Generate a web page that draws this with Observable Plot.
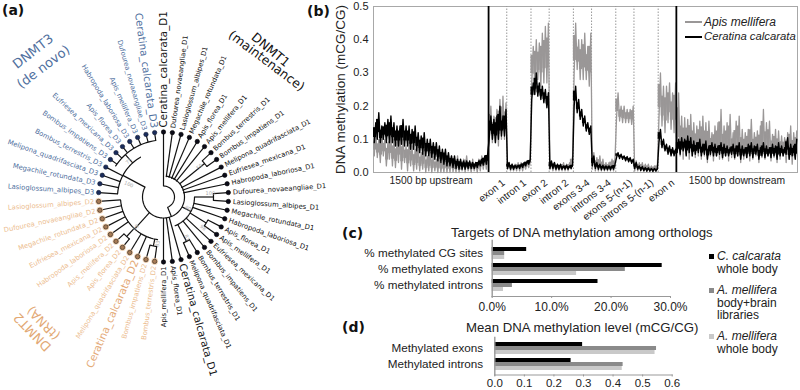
<!DOCTYPE html>
<html><head><meta charset="utf-8">
<script src="https://cdn.jsdelivr.net/npm/d3@7"></script>
<script src="https://cdn.jsdelivr.net/npm/@observablehq/plot@0.6"></script>
<style>
html,body{margin:0;padding:0;background:#fff}
#page{position:relative;width:800px;height:390px;overflow:hidden;font-family:"Liberation Sans",Arial,sans-serif;color:#222}
#page svg{position:absolute;background:transparent;overflow:visible}
.t{position:absolute;white-space:nowrap;line-height:1}
.b{font-weight:bold;font-size:14px;color:#111;font-family:"DejaVu Sans"}
.sw{position:absolute}
</style></head><body><div id="page"></div>
<script>
// ---------- panel (a): leaves clockwise from the top; [name, family, radius of parent node]
const leaves = [
["Ceratina_calcarata_D1","D1",11],["Dufourea_novaeangliae_D1","D1",20],["Lasioglossum_albipes_D1","D1",20],
["Megachile_rotundata_D1","D1",20],["Apis_florea_D1","D1",20],["Apis_mellifera_D1","D1",20],
["Bombus_terrestris_D1","D1",53],["Bombus_impatiens_D1","D1",53],["Melipona_quadrifasciata_D1","D1",20],
["Eufriesea_mexicana_D1","D1",20],["Habropoda_laboriosa_D1","D1",20],["Dufourea_novaeangliae_D1","D1",50],
["Lasioglossum_albipes_D1","D1",50],["Megachile_rotundata_D1","D1",31],["Habropoda_laboriosa_D1","D1",31],
["Apis_florea_D1","D1",50],["Apis_mellifera_D1","D1",50],["Eufriesea_mexicana_D1","D1",31],
["Bombus_impatiens_D1","D1",31],["Bombus_terrestris_D1","D1",50],["Melipona_quadrifasciata_D1","D1",50],
["Ceratina_calcarata_D1","D1",21],["Apis_florea_D1","D1",21],["Apis_mellifera_D1","D1",21],
["Bombus_terrestris_D2","D2",50],["Bombus_impatiens_D2","D2",50],["Ceratina_calcarata_D2","D2",43],
["Melipona_quadrifasciata_D2","D2",43],["Apis_florea_D2","D2",54],["Apis_mellifera_D2","D2",54],
["Habropoda_laboriosa_D2","D2",43],["Eufriesea_mexicana_D2","D2",43],["Megachile_rotundata_D2","D2",43],
["Dufourea_novaeangliae_D2","D2",43],["Lasioglossum_albipes_D2","D2",43],
["Lasioglossum_albipes_D3","D3",46],["Megachile_rotundata_D3","D3",46],["Melipona_quadrifasciata_D3","D3",46],
["Bombus_terrestris_D3","D3",46],["Bombus_impatiens_D3","D3",57],["Eufriesea_mexicana_D3","D3",57],
["Apis_florea_D3","D3",57],["Habropoda_laboriosa_D3","D3",57],["Apis_mellifera_D3","D3",57],
["Dufourea_novaeangliae_D3","D3",57],["Ceratina_calcarata_D3","D3",57]];
// tree arcs: [radius, from angle, to angle]; inner stems: [angle, r0, r1]
const treeArcs = [[11,0,158],[21,8,298],[31,90,158],[50,86.1,93.9],[53,47,54.8],[50,117.4,125.2],
[50,148.7,156.5],[43,188,266],[50,187.8,195.7],[54,219,227],[46,274,330],[57,303,352.2]];
const treeStems = [[158,11,21],[118,21,31],[90,31,50],[121.3,31,50],[152.6,31,50],[50.9,21,53],
[222,21,43],[298,21,46],[191.7,43,50],[223,43,54],[318,46,57]];
const supports = [[290,37,"100",22],[86,47,"100",0],[187,47,"83",-80],[222,41,"99",-50],[115,27,"60",25],
[316,50,"75",-45],[128,50,"98",38],[150,47,"81",65],[50,47,"50",-38]];
const familyStyle = {D1:{text:"#111",dot:"#0b0b18",stroke:"#000"},D2:{text:"#ecbd90",dot:"#a67a55",stroke:"#2a211a"},D3:{text:"#4f6f9e",dot:"#1b2d5c",stroke:"#10182e"}};
const cladeLabels = [
{t:"DNMT3",x:-130.5,y:-145.5,r:-38,c:"#4f6f9e",s:13},{t:"(de novo)",x:-120,y:-130,r:-37,c:"#4f6f9e",s:13},
{t:"DNMT1",x:107,y:-147,r:40,c:"#111",s:12.5},{t:"(maintenance)",x:103,y:-136,r:37,c:"#111",s:12.5},
{t:"DNMT2",x:-131,y:135,r:226,c:"#e2a874",s:13},{t:"(tRNA)",x:-120,y:126,r:226,c:"#e2a874",s:12.5}];

// ---------- panel (b): methylation envelope per gene region (low / high reading in each position bin)
const regionNames = ["1500 bp upstream","exon 1","intron 1","exon 2","intron 2","exons 3-4","introns 3-4","exons 5-(n-1)","introns 5-(n-1)","exon n","1500 bp downstream"];
const blackHi = [
[.15,.18,.14,.15,.16,.17,.15,.14,.14,.16,.14,.14,.13,.14,.12,.11,.12,.10,.10,.09,.09,.08,.07,.07,.06,.05,.05,.04,.04,.035,.035,.035,.03,.03,.035,.04,.05,.06],
[.17,.16,.17,.20,.17,.19],[.03,.025,.022,.022,.025,.03,.035,.04],[.27,.30,.27,.26,.25,.24],[.035,.03,.025,.025,.02,.022,.02,.025],
[.26,.22,.19,.17,.15,.14],[.05,.03,.025,.022,.02,.02,.02,.025],[.06,.055,.05,.048,.045,.04],[.03,.02,.018,.015,.014,.012,.012,.012],
[.13,.10,.085,.08,.075,.07],
[.10,.105,.10,.11,.105,.095,.09,.10,.085,.095,.08,.09,.085,.08,.09,.085,.08,.075,.085,.08,.09,.08,.075,.085,.09,.08,.085,.075,.09,.08,.075,.085,.08,.09,.08,.075,.105,.085,.08,.10]];
const blackLo = [
[.09,.10,.09,.10,.09,.09,.09,.08,.08,.085,.08,.08,.07,.07,.065,.06,.055,.05,.05,.045,.04,.035,.03,.025,.02,.02,.015,.012,.01,.01,.01,.012,.012,.012,.015,.02,.022,.025],
[.11,.10,.09,.10,.11,.11],[.012,.01,.01,.012,.012,.015,.02,.025],[.22,.235,.23,.22,.21,.195],[.012,.012,.01,.01,.01,.01,.01,.012],
[.20,.18,.16,.14,.125,.115],[.02,.012,.01,.008,.008,.008,.008,.01],[.045,.042,.04,.035,.032,.028],[.012,.01,.006,.005,.004,.004,.003,.004],
[.09,.075,.065,.055,.05,.05],
[.06,.055,.065,.05,.06,.05,.055,.06,.05,.055,.04,.055,.05,.05,.055,.045,.05,.05,.055,.045,.05,.04,.05,.045,.05,.045,.055,.04,.05,.045,.05,.045,.05,.04,.05,.05,.055,.04,.05,.04]];
const greyHi = [
[.12,.10,.12,.10,.09,.11,.10,.09,.12,.10,.08,.09,.08,.07,.08,.06,.07,.05,.06,.05,.04,.05,.04,.05,.04,.05,.03,.05,.03,.04,.05,.03,.04,.03,.04,.05,.05,.06],
[.20,.17,.19,.22,.23,.21],[.03,.025,.025,.03,.03,.03,.035,.04],[.38,.40,.39,.42,.44,.45],[.03,.03,.025,.02,.03,.025,.03,.05],
[.45,.40,.40,.42,.38,.42],[.06,.045,.05,.04,.03,.03,.04,.045],[.24,.20,.20,.19,.19,.20],[.035,.03,.03,.025,.025,.02,.02,.025],
[.30,.26,.26,.27,.24,.27],
[.24,.17,.165,.16,.175,.15,.14,.155,.17,.15,.155,.12,.14,.15,.19,.14,.15,.175,.12,.155,.17,.13,.12,.13,.16,.12,.125,.14,.19,.15,.155,.115,.13,.125,.11,.105,.12,.14,.12,.125]];
const greyLo = [
[.05,.045,.03,.05,.02,.04,.02,.015,.03,.01,.03,.005,.02,.005,.01,.005,.01,0,.005,0,.005,0,0,0,0,0,.002,0,0,.005,0,.005,0,.005,0,.005,.01,.01],
[.10,.09,.09,.08,.10,.10],[.01,.005,.005,.005,.005,.005,.01,.015],[.27,.26,.28,.26,.27,.27],[.01,.005,.005,.005,.005,.005,.005,.01],
[.30,.31,.28,.28,.28,.26],[.01,.005,.005,.005,.005,.005,.005,.005],[.165,.155,.15,.15,.15,.145],[.005,.005,.005,.004,.004,.004,.004,.004],
[.16,.14,.12,.15,.13,.12],
[.06,.05,.04,.055,.04,.05,.045,.05,.04,.05,.03,.05,.035,.05,.04,.04,.05,.035,.045,.04,.05,.03,.04,.045,.035,.04,.05,.03,.045,.04,.05,.035,.045,.03,.04,.05,.03,.04,.025,.045]];
const yTicks = [0,.1,.2,.3,.4,.5];

// ---------- panels (c), (d)
const barSeries = ["C. calcarata whole body","A. mellifera body+brain libraries","A. mellifera whole body"];
const barColors = ["#000000","#8a8a8a","#c9c9c9"];
const targetRows = ["% methylated CG sites","% methylated exons","% methylated introns"];
const targetValues = [[5.8,28.6,17.8],[2.1,22.4,3.4],[2.1,14.2,1.9]];
const levelRows = ["Methylated exons","Methylated introns"];
const levelValues = [[.297,.258],[.547,.434],[.542,.431]];
const targetTicks = [0,10,20,30], levelTicks = [0,.1,.2,.3,.4,.5,.6];

const page = document.getElementById("page");
function place(svg,l,t){svg.style.left=l+"px";svg.style.top=t+"px";page.appendChild(svg);}
function html(txt,l,t,style,cls){const d=document.createElement("div");d.className="t "+(cls||"");d.innerHTML=txt;d.style.left=l+"px";d.style.top=t+"px";d.style.cssText+=style||"";page.appendChild(d);}

// ===== (a) =====
const step = 360/leaves.length;
const rad = a => a*Math.PI/180;
const px = (r,a) => r*Math.sin(rad(a)), py = (r,a) => -r*Math.cos(rad(a));
const leafData = leaves.map(([name,fam,r0],i)=>{const a=i*step;return {name,fam,r0,a,big:name.startsWith("Ceratina"),right:(a<180)};});
const arcPts = treeArcs.flatMap(([r,a0,a1],k)=>d3.range(0,1.0001,1/Math.max(2,Math.ceil((a1-a0)/3))).map(f=>({k,x:px(r,a0+(a1-a0)*f),y:py(r,a0+(a1-a0)*f)})));
const labelR = 69.5;
const labelSize = d => d.big ? 10.3 : 6.8;
const labelColor = d => d.big && d.fam==="D2" ? "#e4aa78" : familyStyle[d.fam].text;
const leafText = (data,anchor,rot) => Plot.text(data,{x:d=>px(labelR,d.a),y:d=>py(labelR,d.a),text:"name",rotate:rot,textAnchor:anchor,fontSize:labelSize,fill:labelColor,fontFamily:"DejaVu Sans"});
place(Plot.plot({width:330,height:390,margin:0,axis:null,
  x:{domain:[-163,167],range:[0,330]},y:{domain:[-196.5,193.5],range:[0,390]},
  marks:[
    Plot.link(leafData,{x1:d=>px(d.r0,d.a),y1:d=>py(d.r0,d.a),x2:d=>px(65,d.a),y2:d=>py(65,d.a),stroke:"#111",strokeWidth:1.2}),
    Plot.link(treeStems,{x1:d=>px(d[1],d[0]),y1:d=>py(d[1],d[0]),x2:d=>px(d[2],d[0]),y2:d=>py(d[2],d[0]),stroke:"#111",strokeWidth:1.2}),
    Plot.line(arcPts,{x:"x",y:"y",z:"k",stroke:"#111",strokeWidth:1.2,curve:"linear"}),
    Plot.dot(leafData.filter(d=>d.fam==="D2"),{x:d=>px(65,d.a),y:d=>py(65,d.a),r:3.4,fill:"#f0c9a2",opacity:.8}),
    Plot.dot(leafData,{x:d=>px(65,d.a),y:d=>py(65,d.a),r:2.2,fill:d=>familyStyle[d.fam].dot,stroke:d=>familyStyle[d.fam].stroke,strokeWidth:.6}),
    leafText(leafData.filter(d=>d.right),"start",d=>d.a-90),
    leafText(leafData.filter(d=>!d.right),"end",d=>d.a+90),
    Plot.text(supports,{x:d=>px(d[1],d[0]),y:d=>py(d[1],d[0]),text:d=>d[2],rotate:d=>d[3],fontSize:5,fill:"#aaa",fontFamily:"DejaVu Sans"}),
    Plot.text(cladeLabels,{x:"x",y:"y",text:"t",rotate:"r",fill:"c",fontSize:"s",fontFamily:"DejaVu Sans"})
  ]}),0,0);

// ===== (b) =====
const regionBins = blackHi.map(r=>r.length);
const edges = d3.cumsum([0,...regionBins]);
const zig = (lo,hi) => {const H=hi.flat();return lo.flat().flatMap((v,i)=>[{x:i+.25,y:v},{x:i+.75,y:H[i]}]);};
const core = (lo,hi) => {const H=hi.flat();return lo.flat().map((v,i)=>({x:i,y1:v+(H[i]-v)*.25,y2:H[i]-(H[i]-v)*.25}));};
const regions = regionNames.map((name,i)=>({name,c:(edges[i]+edges[i+1])/2,first:i===0,last:i===regionNames.length-1}));
const innerEdges = edges.slice(2,-2), thickEdges = [edges[1],edges[edges.length-2]];
const coreArea = (rows,c) => Plot.rectY(rows,{x1:"x",x2:d=>d.x+1,y1:"y1",y2:"y2",fill:c});
place(Plot.plot({width:470,height:206,marginLeft:43,marginTop:6,marginBottom:34,marginRight:3,
  x:{domain:[0,edges[edges.length-1]],axis:null},y:{domain:[0,.5],axis:null},
  style:{fontFamily:"Liberation Sans"},
  marks:[
    Plot.frame({stroke:"#a8a8a8",strokeWidth:1}),
    Plot.ruleX(innerEdges,{y1:0,y2:.5,stroke:"#999",strokeDasharray:"1.5,1.5",strokeWidth:1}),
    coreArea(core(greyLo,greyHi),"#9a9797"),
    Plot.line(zig(greyLo,greyHi),{x:"x",y:"y",stroke:"#9a9797",strokeWidth:1.3}),
    coreArea(core(blackLo,blackHi),"#000"),
    Plot.line(zig(blackLo,blackHi),{x:"x",y:"y",stroke:"#000",strokeWidth:1.4}),
    Plot.ruleX(thickEdges,{y1:0,y2:.5,stroke:"#000",strokeWidth:1.8}),
    Plot.axisY({ticks:yTicks,tickFormat:d=>d.toFixed(1),tickSize:0,tickPadding:5,fontSize:11,label:null,color:"#222"}),
    Plot.text(["DNA methylation (mCG/CG)"],{frameAnchor:"left",textAnchor:"middle",rotate:-90,dx:-33,fontSize:13.5,fill:"#222"}),
    Plot.text(regions.filter(d=>d.first||d.last),{x:"c",y:0,text:"name",dy:8,fontSize:10.3,fill:"#222"}),
    Plot.text(regions.filter(d=>!d.first&&!d.last),{x:"c",y:0,text:"name",dx:6,dy:9,rotate:-38,textAnchor:"end",fontSize:10,fill:"#222"})
  ]}),330,0);

// ===== (c), (d) =====
function barPanel(rows,values,ticks,fmt,opts){
  const keys = rows.flatMap((r,i)=>[ "gap"+i, ...barSeries.map(s=>r+"|"+s) ]);
  const data = barSeries.flatMap((s,k)=>rows.map((r,i)=>({key:r+"|"+s,value:values[k][i],k})));
  return Plot.plot({width:800-opts.left,height:opts.height,marginTop:opts.top,marginBottom:18,marginLeft:opts.axisX-opts.left,marginRight:800-opts.axisX-opts.xlen,
    x:{domain:[ticks[0],ticks[ticks.length-1]],axis:null},
    y:{domain:keys,range:opts.yr,padding:0,axis:null},
    style:{fontFamily:"Liberation Sans"},
    marks:[
      Plot.barX(data,{x:"value",y:"key",fill:d=>barColors[d.k],inset:0}),
      Plot.frame({anchor:"bottom",stroke:"#999"}),
      Plot.frame({anchor:"left",stroke:"#999",strokeWidth:1.4}),
      Plot.axisX({ticks,tickFormat:fmt,tickSize:2,tickPadding:opts.pad,fontSize:opts.tickFont,label:null,stroke:"#999",color:"#222"}),
      Plot.text(rows,{x:ticks[0],y:r=>r+"|"+barSeries[1],text:r=>r,textAnchor:"end",dx:opts.rowDx,fontSize:11.7,fill:"#222"})
    ]});
}
place(barPanel(targetRows,targetValues,targetTicks,d=>d.toFixed(1)+"%",{left:340,height:78,top:4,axisX:491.7,xlen:178.3,yr:[5.8,56.3],pad:4,tickFont:12,rowDx:-9}),340,236);
place(barPanel(levelRows,levelValues,levelTicks,d=>d.toFixed(1),{left:340,height:57.5,top:2,axisX:494.3,xlen:177.4,yr:[1,37.5],pad:1.5,tickFont:11.5,rowDx:-11.6}),340,335);

// ===== text and legends =====
html("(a)",2,3,"","b"); html("(b)",307,4,"","b"); html("(c)",342,226,"","b"); html("(d)",342,320,"","b");
html("Targets of DNA methylation among orthologs",451,226,"font-size:13.2px");
html("Mean DNA methylation level (mCG/CG)",466,320.5,"font-size:13.2px");
const sw=(l,t,w,h,c)=>{const d=document.createElement("div");d.className="sw";d.style.cssText=`left:${l}px;top:${t}px;width:${w}px;height:${h}px;background:${c}`;page.appendChild(d);};
sw(685,20.5,17,2.5,"#9a9797"); html("<i>Apis mellifera</i>",704,16,"font-size:12px");
sw(685,35.5,17,2.5,"#000"); html("<i>Ceratina calcarata</i>",704,31,"font-size:11.3px");
sw(709,254,5,5,barColors[0]); html("<i>C. calcarata</i><br>whole body",717,250,"font-size:12px;line-height:12.5px");
sw(709,288,5,5,barColors[1]); html("<i>A. mellifera</i><br>body+brain<br>libraries",717,284,"font-size:12px;line-height:12.5px");
sw(709,334,5,5,barColors[2]); html("<i>A. mellifera</i><br>whole body",717,330,"font-size:12px;line-height:12.5px");
</script></body></html>
